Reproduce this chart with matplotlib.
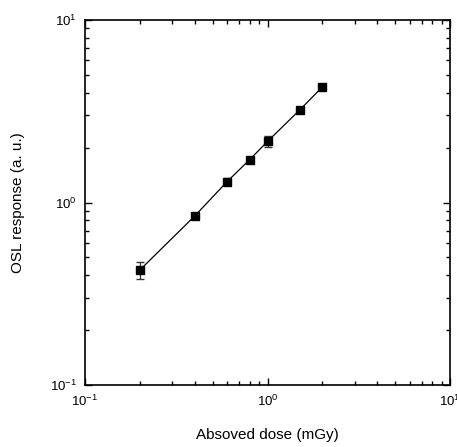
import matplotlib

matplotlib.use("Agg")
import matplotlib.pyplot as plt

plt.rcParams["font.family"] = ["Liberation Sans", "DejaVu Sans"]
plt.rcParams["mathtext.fontset"] = "custom"
plt.rcParams["mathtext.rm"] = "Liberation Sans"
plt.rcParams["mathtext.it"] = "Liberation Sans"
plt.rcParams["axes.unicode_minus"] = False

# absorbed dose (mGy) and OSL response (a. u.)
dose = [0.2, 0.4, 0.6, 0.8, 1.0, 1.5, 2.0]
response = [0.427, 0.845, 1.30, 1.72, 2.16, 3.21, 4.30]
err = [0.048, 0.025, 0.06, 0.05, 0.14, 0.05, 0.05]

fig = plt.figure(figsize=(4.57, 4.47), dpi=100)
ax = fig.add_axes([85 / 457, 62 / 447, 365 / 457, 365 / 447])

ax.errorbar(dose, response, yerr=err, fmt="s-", color="black",
            markersize=6, linewidth=0.9, elinewidth=0.9, capsize=3,
            ecolor="#333333")

ax.set_xscale("log")
ax.set_yscale("log")
ax.set_xlim(0.1, 10)
ax.set_ylim(0.1, 10)

ax.tick_params(which="both", direction="in", top=True, right=True,
               labelsize=9.5, width=1.0, pad=6)
ax.tick_params(which="major", length=5)
ax.tick_params(which="minor", length=3)
for s in ax.spines.values():
    s.set_linewidth(1.2)

ax.set_xlabel("Absoved dose (mGy)", fontsize=11, labelpad=14)
ax.set_ylabel("OSL response (a. u.)", fontsize=11, labelpad=18)

fig.savefig("out.png", dpi=100)
